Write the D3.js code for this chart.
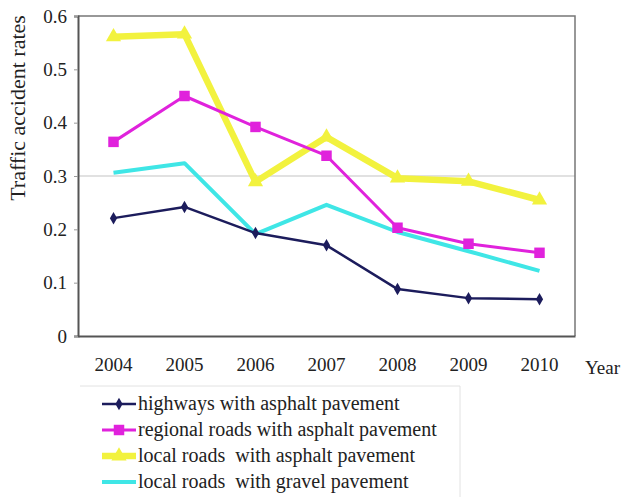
<!DOCTYPE html>
<html>
<head>
<meta charset="utf-8">
<script src="https://cdn.jsdelivr.net/npm/d3@7"></script>
<style>
  body { margin: 0; background: #fff; }
  text { font-family: "Liberation Serif", "DejaVu Serif", serif; fill: #222; }
</style>
</head>
<body>
<div id="chart"></div>
<script>
const years = ["2004", "2005", "2006", "2007", "2008", "2009", "2010"];
const highways = [0.221, 0.242, 0.193, 0.170, 0.088, 0.071, 0.069];
const regional = [0.364, 0.450, 0.392, 0.338, 0.203, 0.173, 0.156];
const localAsphalt = [0.561, 0.566, 0.289, 0.373, 0.296, 0.290, 0.255];
const localGravel = [0.306, 0.324, 0.191, 0.246, 0.195, 0.159, 0.122];
const yTicks = [0, 0.1, 0.2, 0.3, 0.4, 0.5, 0.6];
const yTickLabels = ["0", "0.1", "0.2", "0.3", "0.4", "0.5", "0.6"];
const seriesNames = [
  "highways with asphalt pavement",
  "regional roads with asphalt pavement",
  "local roads  with asphalt pavement",
  "local roads  with gravel pavement"
];

const width = 623, height = 497;
const plotLeft = 78, plotRight = 575, plotTop = 16, plotBottom = 336;
const serif = '"Liberation Serif", "DejaVu Serif", serif';

const svg = d3.select("#chart").append("svg")
  .attr("width", width)
  .attr("height", height);

const x = d3.scaleBand().domain(years).range([plotLeft, plotRight]);
const y = d3.scaleLinear().domain([0, 0.6]).range([plotBottom, plotTop]);

// gridline at 0.3
svg.append("line")
  .attr("x1", plotLeft).attr("x2", plotRight)
  .attr("y1", y(0.3)).attr("y2", y(0.3))
  .attr("stroke", "#c4c4c4").attr("stroke-width", 1.2);

// plot border (top/right)
svg.append("path")
  .attr("d", `M${plotLeft},${plotTop}H${plotRight}V${plotBottom}`)
  .attr("fill", "none").attr("stroke", "#777").attr("stroke-width", 1.5);

// axes
const yAxis = svg.append("g")
  .attr("transform", `translate(${plotLeft},0)`)
  .call(d3.axisLeft(y).tickValues(yTicks).tickFormat((d, i) => yTickLabels[i]).tickSize(4).tickPadding(7));
yAxis.attr("font-family", serif);
yAxis.select(".domain").attr("stroke", "#555").attr("stroke-width", 2);
yAxis.selectAll(".tick line").attr("stroke", "#999");
yAxis.selectAll("text").style("font-family", serif).style("font-size", "19px").attr("fill", "#333");

const xAxis = svg.append("g")
  .attr("transform", `translate(0,${plotBottom})`)
  .call(d3.axisBottom(x).tickSize(0).tickPadding(22));
xAxis.attr("font-family", serif);
xAxis.select(".domain").attr("stroke", "#555").attr("stroke-width", 2);
xAxis.selectAll("text").style("font-family", serif).style("font-size", "19px").attr("fill", "#333");

svg.append("text")
  .attr("x", 585).attr("y", 374)
  .style("font-size", "19px")
  .text("Year");

svg.append("text")
  .attr("transform", `translate(25,${(plotTop + 200) / 2}) rotate(-90)`)
  .attr("text-anchor", "middle")
  .style("font-size", "22px")
  .text("Traffic accident rates");

const series = [
  { name: seriesNames[3], values: localGravel, color: "#3fe6e6", width: 4, marker: null },
  { name: seriesNames[2], values: localAsphalt, color: "#f2f23e", width: 6.5, marker: d3.symbolTriangle, size: 100 },
  { name: seriesNames[1], values: regional, color: "#e022dc", width: 3, marker: d3.symbolSquare, size: 110 },
  { name: seriesNames[0], values: highways, color: "#1c1c5c", width: 2.5, marker: d3.symbolDiamond, size: 45 }
];

const line = d3.line()
  .x((d, i) => x(years[i]) + x.bandwidth() / 2)
  .y(d => y(d));

series.forEach(s => {
  svg.append("path")
    .datum(s.values)
    .attr("d", line)
    .attr("fill", "none")
    .attr("stroke", s.color)
    .attr("stroke-width", s.width)
    .attr("stroke-linejoin", "round");
  if (s.marker) {
    svg.selectAll(null)
      .data(s.values)
      .enter()
      .append("path")
      .attr("transform", (d, i) => `translate(${x(years[i]) + x.bandwidth() / 2},${y(d)})`)
      .attr("d", d3.symbol().type(s.marker).size(s.size))
      .attr("fill", s.color);
  }
});

// legend
const legend = svg.append("g").attr("transform", "translate(100,404)");
legend.append("path")
  .attr("d", "M-20,-18H360V95")
  .attr("fill", "none").attr("stroke", "#e2e2e2").attr("stroke-width", 1);

const legendOrder = [3, 2, 1, 0].map(i => series[i]);
legendOrder.forEach((s, i) => {
  const g = legend.append("g").attr("transform", `translate(0,${i * 26})`);
  g.append("line")
    .attr("x1", 2).attr("x2", 36)
    .attr("stroke", s.color).attr("stroke-width", s.width);
  if (s.marker) {
    g.append("path")
      .attr("transform", "translate(19,0)")
      .attr("d", d3.symbol().type(s.marker).size(s.size))
      .attr("fill", s.color);
  }
  g.append("text")
    .attr("x", 38).attr("y", 6)
    .style("font-family", serif)
    .style("font-size", "20px")
    .style("white-space", "pre")
    .text(s.name);
});
</script>
</body>
</html>
